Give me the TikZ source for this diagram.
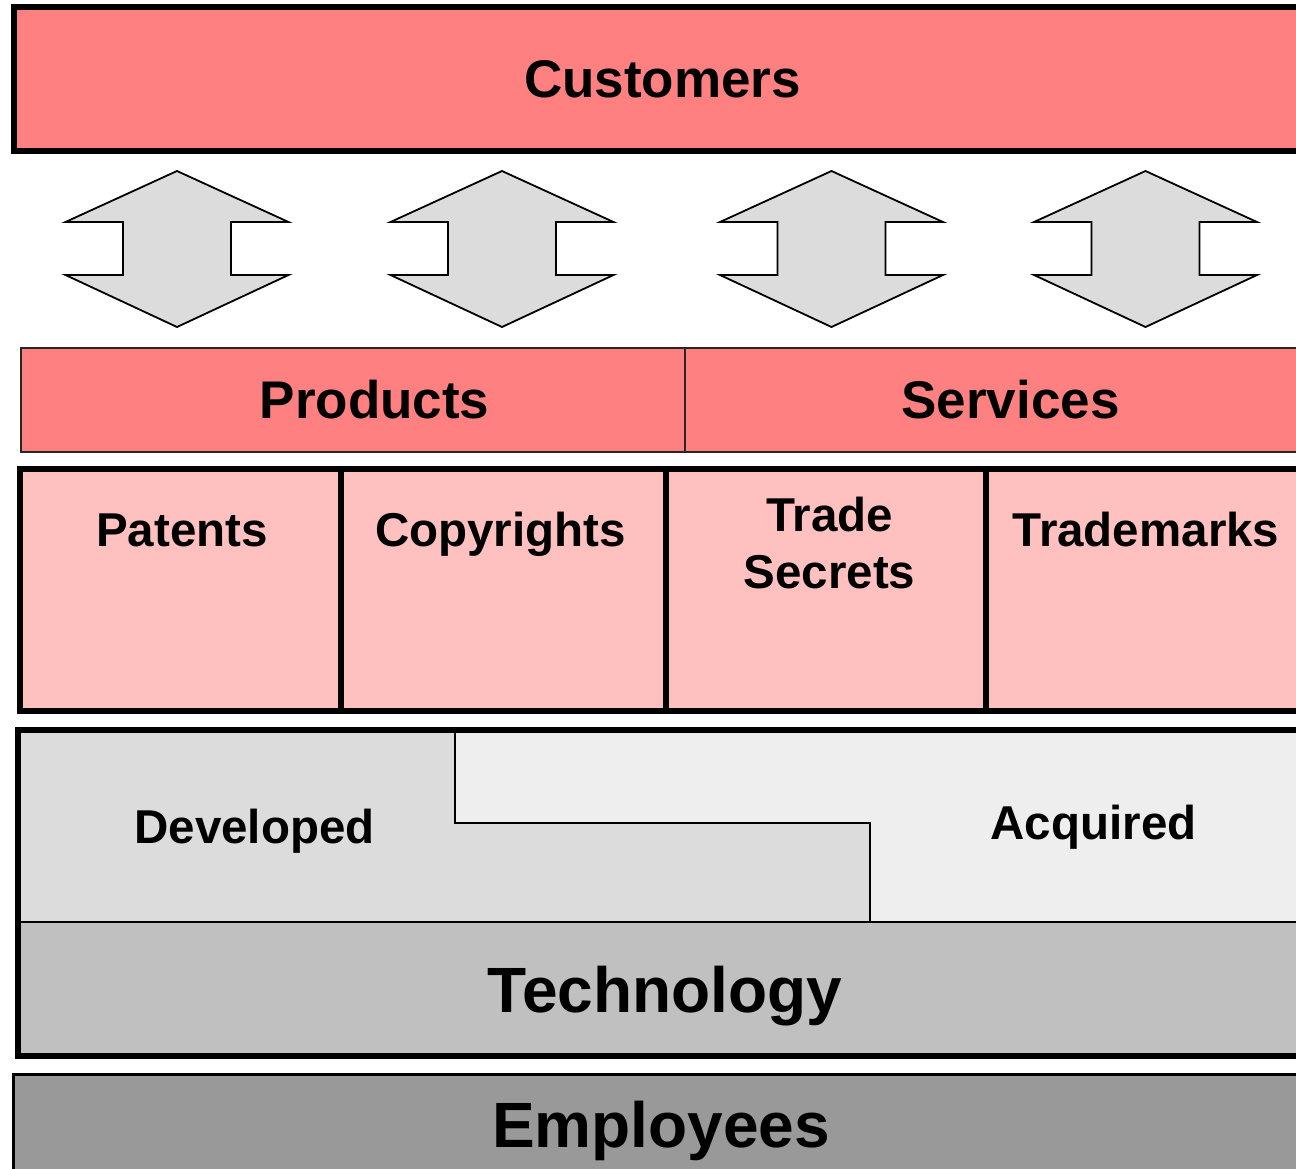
\documentclass[tikz,border=0pt]{standalone}
\usepackage{fontspec}
\setmainfont{Liberation Sans}
\definecolor{salmon}{HTML}{FF8080}
\definecolor{pinklt}{HTML}{FFC0C0}
\definecolor{arrowgray}{HTML}{DCDCDC}
\definecolor{devgray}{HTML}{DCDCDC}
\definecolor{acqgray}{HTML}{EEEEEE}
\definecolor{techgray}{HTML}{C0C0C0}
\definecolor{empgray}{HTML}{999999}
\begin{document}
\begin{tikzpicture}[x=1pt,y=-1pt,
  big/.style={font=\bfseries\fontsize{53}{60}\selectfont, anchor=base, inner sep=0pt},
  mid/.style={font=\bfseries\fontsize{47.5}{57}\selectfont, anchor=base, inner sep=0pt, align=center},
  huge/.style={font=\bfseries\fontsize{64}{70}\selectfont, anchor=base, inner sep=0pt},
  thickbox/.style={draw=black, line width=5.5pt},
  thinbox/.style={draw=black!85, line width=2pt},
  arrowshape/.style={draw=black, line width=1.8pt, fill=arrowgray, line join=miter}]
\useasboundingbox (0,0) rectangle (1296,1168);
\begin{scope}
\clip (0,0) rectangle (1296,1168);
% Customers
\path[fill=salmon, draw=black, line width=6pt] (14,7) rectangle (1310,151);
\node[big] (customers) at (662.5,97) {Customers};
% double arrows
\foreach \c/\n in {177/a1, 502/a2, 831.5/a3, 1145.5/a4}{
  \path[arrowshape] (\c-111.5,222) -- (\c,171) -- (\c+111.5,222) -- (\c+54,222)
     -- (\c+54,275) -- (\c+111.5,275) -- (\c,327) -- (\c-111.5,275)
     -- (\c-54,275) -- (\c-54,222) -- cycle;
  \coordinate (\n) at (\c,249);
}
% Products / Services
\path[fill=salmon, thinbox] (21,348) rectangle (685,452);
\path[fill=salmon, thinbox] (685,348) rectangle (1310,452);
\node[big] (products) at (374.5,418) {Products};
\node[big] (services) at (1010.5,418) {Services};
% IP row
\path[fill=pinklt, thickbox] (20,469) rectangle (341,711);
\path[fill=pinklt, thickbox] (341,469) rectangle (666,711);
\path[fill=pinklt, thickbox] (666,469) rectangle (986,711);
\path[fill=pinklt, thickbox] (986,469) rectangle (1310,711);
\node[mid] (patents) at (182,546) {Patents};
\node[mid] (copyrights) at (500.5,546) {Copyrights};
\node[mid] (trade) at (829.5,531) {Trade};
\node[mid] (secrets) at (829.5,588) {Secrets};
\node[mid] (trademarks) at (1146,546) {Trademarks};
% Developed / Acquired / Technology
\path[fill=acqgray] (18,730) rectangle (1310,922);
\path[fill=devgray] (18,730) -- (455,730) -- (455,823) -- (870,823) -- (870,922) -- (18,922) -- cycle;
\path[fill=techgray] (18,922) rectangle (1310,1056);
\draw[line width=2pt] (455,730) -- (455,823) -- (870,823) -- (870,922);
\draw[line width=2pt] (18,922) -- (1310,922);
\path[thickbox] (18,730) rectangle (1310,1056);
\node[mid] (developed) at (254.5,843) {Developed};
\node[mid] (acquired) at (1093.5,839) {Acquired};
\node[huge] (technology) at (665,1012) {Technology};
% Employees
\path[fill=empgray, draw=black, line width=3pt] (13,1074) rectangle (1310,1190);
\node[huge] (employees) at (661,1147) {Employees};
\end{scope}
\end{tikzpicture}
\end{document}
